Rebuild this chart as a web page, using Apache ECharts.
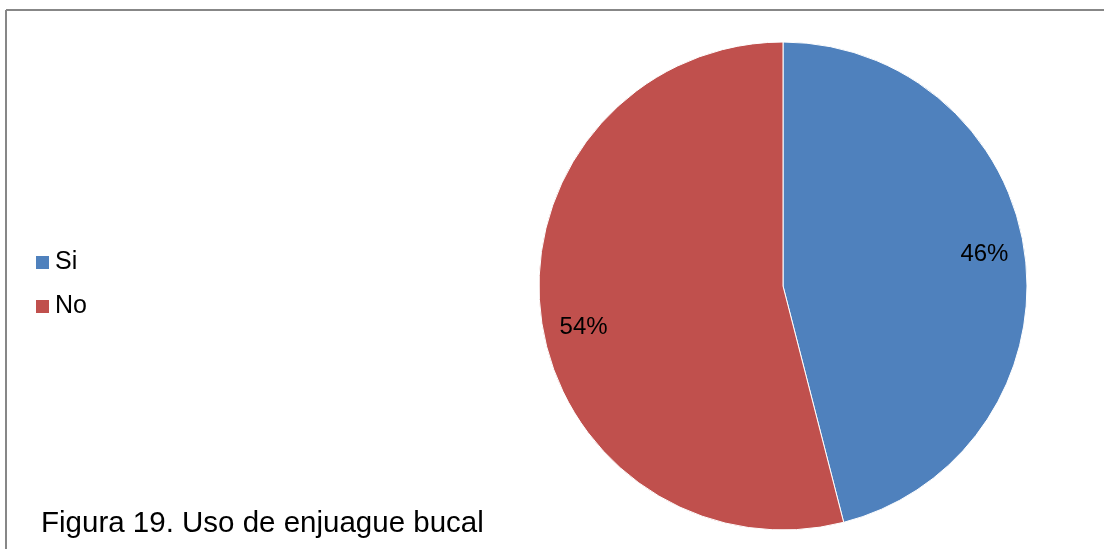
<!DOCTYPE html>
<html>
<head>
<meta charset="utf-8">
<title>Uso de enjuague bucal</title>
<script src="https://cdn.jsdelivr.net/npm/echarts@6/dist/echarts.min.js"></script>
<style>
  html, body { margin: 0; padding: 0; background: #ffffff; }
  #chart { width: 1104px; height: 549px; }
</style>
</head>
<body>
<div id="chart"></div>
<script>
// Mouthwash use: share of respondents
const categories = ['Si', 'No'];
const values = [46, 54];
const caption = 'Figura 19. Uso de enjuague bucal';

const colors = ['#4F81BD', '#C0504D'];
const FONT = '"Liberation Sans", Arial, sans-serif';
const CX = 783, CY = 286, R = 244;
// fine placement of each percentage label inside its slice
const labelNudge = [[0, -6], [2, 16]];

const pieData = categories.map((name, i) => ({ name, value: values[i] }));

const chart = echarts.init(document.getElementById('chart'), null, { renderer: 'canvas' });

chart.setOption({
  backgroundColor: '#ffffff',
  animation: false,
  color: colors,
  title: {
    text: caption,
    left: 36,
    top: 504,
    textStyle: { fontFamily: FONT, fontSize: 29.5, fontWeight: 'normal', color: '#000000' }
  },
  legend: {
    orient: 'vertical',
    left: 29,
    top: 245,
    itemWidth: 15,
    itemHeight: 15,
    itemGap: 19,
    icon: 'rect',
    data: categories,
    textStyle: { fontFamily: FONT, fontSize: 25, color: '#000000', padding: [0, 0, 0, 0] }
  },
  graphic: [
    // chart-area frame (top and left edges)
    { type: 'line', shape: { x1: 6, y1: 10, x2: 1104, y2: 10 }, style: { stroke: '#878787', lineWidth: 2 }, silent: true },
    { type: 'line', shape: { x1: 6, y1: 10, x2: 6, y2: 549 }, style: { stroke: '#878787', lineWidth: 2 }, silent: true }
  ],
  series: [
    {
      type: 'pie',
      center: [CX, CY],
      radius: [0, R],
      startAngle: 90,
      clockwise: true,
      label: { show: false },
      labelLine: { show: false },
      itemStyle: { borderColor: '#ffffff', borderWidth: 1 },
      emphasis: { disabled: true },
      data: pieData
    },
    {
      // transparent ring used only to place the percentage labels
      type: 'pie',
      center: [CX, CY],
      radius: [156, R],
      startAngle: 90,
      clockwise: true,
      silent: true,
      legendHoverLink: false,
      itemStyle: { color: 'rgba(0,0,0,0)', borderWidth: 0 },
      label: {
        show: true,
        position: 'inside',
        formatter: '{c}%',
        fontFamily: FONT,
        fontSize: 24,
        color: '#000000'
      },
      labelLine: { show: false },
      emphasis: { disabled: true },
      data: pieData.map((d, i) => ({
        name: d.name + ' ',
        value: d.value,
        label: { offset: labelNudge[i] }
      }))
    }
  ]
});
</script>
</body>
</html>
